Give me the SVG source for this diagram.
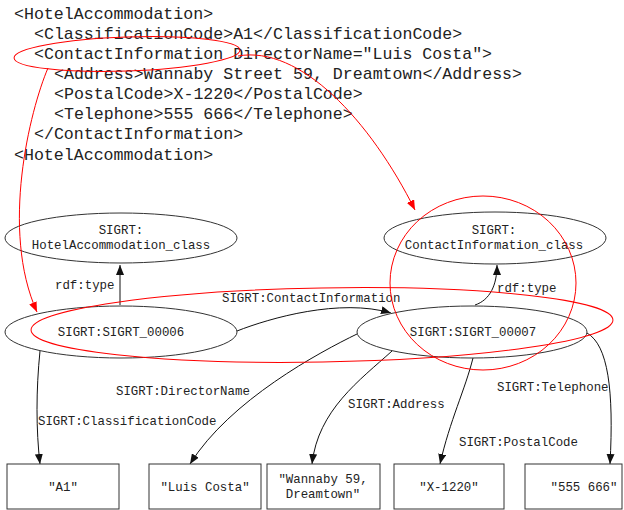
<svg xmlns="http://www.w3.org/2000/svg" width="624" height="510" viewBox="0 0 624 510">
<style>
.xml{font-family:"Liberation Mono","DejaVu Sans Mono",monospace;font-size:16.6px;fill:#222;white-space:pre}
.t{font-family:"Liberation Mono","DejaVu Sans Mono",monospace;font-size:12.4px;fill:#222}
.c{text-anchor:middle}
.node{fill:#fff;stroke:#333;stroke-width:1}
.e{fill:none;stroke:#111;stroke-width:1}
.r{fill:none;stroke:#f00;stroke-width:1}
</style>
<defs>
<marker id="ab" markerWidth="10" markerHeight="8" refX="10" refY="4" orient="auto" markerUnits="userSpaceOnUse"><path d="M0,0 L10,4 L0,8 Z" fill="#111"/></marker>
<marker id="ar" markerWidth="10" markerHeight="8" refX="10" refY="4" orient="auto" markerUnits="userSpaceOnUse"><path d="M0,0 L10,4 L0,8 Z" fill="#f00"/></marker>
</defs>
<g id="xml">
<text class="xml" x="14" y="19">&lt;HotelAccommodation&gt;</text>
<text class="xml" x="34" y="39">&lt;ClassificationCode&gt;A1&lt;/ClassificationCode&gt;</text>
<text class="xml" x="34" y="59">&lt;ContactInformation DirectorName="Luis Costa"&gt;</text>
<text class="xml" x="54" y="79">&lt;Address&gt;Wannaby Street 59, Dreamtown&lt;/Address&gt;</text>
<text class="xml" x="54" y="99">&lt;PostalCode&gt;X-1220&lt;/PostalCode&gt;</text>
<text class="xml" x="54" y="119">&lt;Telephone&gt;555 666&lt;/Telephone&gt;</text>
<text class="xml" x="34" y="139">&lt;/ContactInformation&gt;</text>
<text class="xml" x="14" y="160">&lt;HotelAccommodation&gt;</text>
</g>
<g id="connectors">
<path class="e" d="M120,305 L120,265" marker-end="url(#ab)"/>
<path class="e" d="M475,305 C490,300 497,285 497,265" marker-end="url(#ab)"/>
<path class="e" d="M237,331 C270,318 340,298 391,313" marker-end="url(#ab)"/>
<path class="e" d="M40,351 C36,390 36,430 40,464" marker-end="url(#ab)"/>
<path class="e" d="M357,334 C320,352 230,400 190,464" marker-end="url(#ab)"/>
<path class="e" d="M392,351 C360,380 318,410 312,464" marker-end="url(#ab)"/>
<path class="e" d="M473,358 C465,390 450,420 440,464" marker-end="url(#ab)"/>
<path class="e" d="M587,333 C608,345 614,390 610,464" marker-end="url(#ab)"/>
<text class="t" x="55" y="289">rdf:type</text>
<text class="t" x="497" y="292">rdf:type</text>
<text class="t" x="222" y="302">SIGRT:ContactInformation</text>
<text class="t" x="116" y="395">SIGRT:DirectorName</text>
<text class="t" x="38" y="425">SIGRT:ClassificationCode</text>
<text class="t" x="348" y="408">SIGRT:Address</text>
<text class="t" x="459" y="446">SIGRT:PostalCode</text>
<text class="t" x="497" y="391">SIGRT:Telephone</text>
</g>
<g id="hotelClass"><ellipse class="node" cx="121" cy="238" rx="116" ry="25"/><text class="t c" x="121" y="234">SIGRT:</text><text class="t c" x="121" y="249">HotelAccommodation_class</text></g>
<g id="contactClass"><ellipse class="node" cx="495" cy="238" rx="111" ry="26"/><text class="t c" x="494" y="234">SIGRT:</text><text class="t c" x="494" y="249">ContactInformation_class</text></g>
<g id="n00006"><ellipse class="node" cx="121" cy="332" rx="116" ry="26"/><text class="t c" x="121" y="336">SIGRT:SIGRT_00006</text></g>
<g id="n00007"><ellipse class="node" cx="472" cy="332" rx="115" ry="26"/><text class="t c" x="473" y="336">SIGRT:SIGRT_00007</text></g>
<g id="bA1"><rect class="node" x="7" y="464" width="112" height="45"/><text class="t c" x="63" y="491">"A1"</text></g>
<g id="bLuis"><rect class="node" x="149" y="464" width="112" height="45"/><text class="t c" x="205" y="491">"Luis Costa"</text></g>
<g id="bAddr"><rect class="node" x="267" y="464" width="113" height="45"/><text class="t c" x="323" y="483">"Wannaby 59,</text><text class="t c" x="323" y="498">Dreamtown"</text></g>
<g id="bPostal"><rect class="node" x="394" y="464" width="110" height="45"/><text class="t c" x="449" y="491">"X-1220"</text></g>
<g id="bTel"><rect class="node" x="525" y="464" width="97" height="45"/><text class="t c" x="584" y="491">"555 666"</text></g>
<g id="annotations">
<ellipse class="r" cx="127" cy="54" rx="113" ry="17" transform="rotate(-2 127 54)"/>
<path class="r" d="M48,68 C30,110 0,230 37,312" marker-end="url(#ar)"/>
<path class="r" d="M238,56 C300,45 370,120 415,210" marker-end="url(#ar)"/>
<ellipse class="r" cx="483" cy="283" rx="93" ry="87"/>
<ellipse class="r" cx="322" cy="325" rx="291" ry="37" transform="rotate(-1 322 325)"/>
</g>
</svg>
